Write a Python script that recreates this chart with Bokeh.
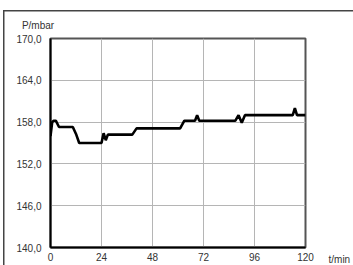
from bokeh.plotting import figure
from bokeh.models import FixedTicker, Range1d, LinearAxis
from bokeh.embed import file_html
from bokeh.resources import INLINE

# data
time_min = [0, 0.8, 1.5, 2.5, 4, 10.5, 12, 13.5, 24, 25, 26, 27, 38.5, 40.5,
            61, 63, 68, 69, 70, 87, 88.5, 90, 91.5, 114, 115, 116, 120]
pressure_mbar = [156.0, 158.0, 158.2, 158.2, 157.3, 157.3, 156.3, 155.0, 155.0,
                 156.4, 155.4, 156.2, 156.2, 157.1, 157.1, 158.2, 158.2, 159.0,
                 158.2, 158.2, 159.0, 157.9, 159.0, 159.0, 160.0, 159.0, 159.0]
x_ticks = [0, 24, 48, 72, 96, 120]
y_ticks = [140, 146, 152, 158, 164, 170]
y_tick_labels = ["140,0", "146,0", "152,0", "158,0", "164,0", "170,0"]
y_title = "P/mbar"
x_title = "t/min"

FONT = "Liberation Sans"
TXT = "#333333"
NBSP = "\u00a0"

p = figure(width=353, height=265, output_backend="svg", toolbar_location=None,
           x_range=Range1d(0, 120), y_range=Range1d(140, 170),
           min_border_left=50, min_border_right=48, min_border_top=38,
           min_border_bottom=18)

p.line(time_min, pressure_mbar, line_color="black", line_width=2.6)


def style_axis(ax):
    ax.major_tick_in = 0
    ax.major_tick_out = 0
    ax.minor_tick_in = 0
    ax.minor_tick_out = 0
    ax.major_label_text_font = FONT
    ax.major_label_text_font_size = "10px"
    ax.major_label_text_color = TXT


for ax in (p.xaxis[0], p.yaxis[0]):
    style_axis(ax)
    ax.axis_line_color = "black"
    ax.axis_line_width = 2

p.xaxis.ticker = FixedTicker(ticks=x_ticks)
p.yaxis.ticker = FixedTicker(ticks=y_ticks)
p.yaxis.major_label_overrides = {t: l for t, l in zip(y_ticks, y_tick_labels)}
p.xaxis.major_label_standoff = 5
p.yaxis.major_label_standoff = 9

# axis titles placed as single labels on extra axes
top_ax = LinearAxis(ticker=FixedTicker(ticks=[x_ticks[0]]),
                    major_label_overrides={x_ticks[0]: y_title + NBSP * 9},
                    axis_line_color=None, major_label_standoff=8)
style_axis(top_ax)
p.add_layout(top_ax, "above")

right_ax = LinearAxis(ticker=FixedTicker(ticks=[y_ticks[0]]),
                      major_label_overrides={y_ticks[0]: "\n\n" + x_title},
                      axis_line_color=None, major_label_standoff=23)
style_axis(right_ax)
p.add_layout(right_ax, "right")

p.xgrid.grid_line_color = "#b5b5b5"
p.ygrid.grid_line_color = "#b5b5b5"
p.grid.grid_line_width = 1

p.outline_line_color = "#555555"
p.outline_line_width = 2
p.background_fill_color = "white"
p.border_fill_alpha = 0
p.styles = {
    "background": "linear-gradient(#444,#444) 3px 10px / 360px 1.5px no-repeat, "
                  "linear-gradient(#444,#444) 2.5px 10px / 1.5px 300px no-repeat, white"
}

open("out.html", "w").write(file_html(p, INLINE))
